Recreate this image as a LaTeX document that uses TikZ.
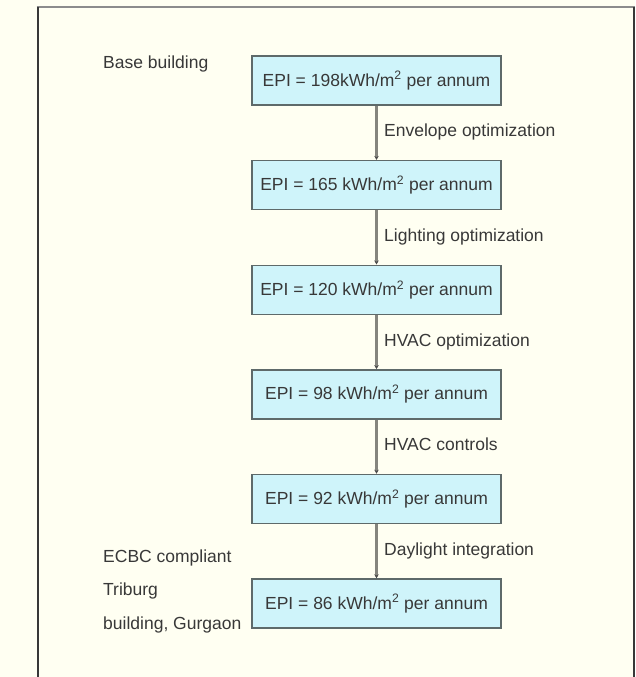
\documentclass[tikz,border=0pt]{standalone}
\usepackage{fontspec}
\setmainfont{Liberation Sans}
\usetikzlibrary{calc,arrows.meta}
\definecolor{bgcream}{HTML}{FFFFF2}
\definecolor{boxfill}{HTML}{CFF4FA}
\definecolor{boxline}{HTML}{5E6A6A}
\definecolor{txt}{HTML}{383838}
\definecolor{arrowc}{HTML}{85857E}
\begin{document}
\begin{tikzpicture}[x=1pt,y=-1pt,
  every node/.style={font=\fontsize{17.5}{21}\selectfont, text=txt, inner sep=0pt},
  epibox/.style={draw=boxline, line width=1.4pt, fill=boxfill, minimum width=249pt, minimum height=49pt},
  steplabel/.style={anchor=base west},
  sidelabel/.style={anchor=base west},
  flow/.style={draw=arrowc, line width=2.2pt, -{Stealth[length=4pt,width=4.5pt,color=black!70]}}]
\useasboundingbox[fill=bgcream] (0,0) rectangle (635,677);
% frame
\draw[line width=2pt, draw=black!45] (36.5,7.5) -- (634.5,7.5);
\draw[line width=2pt, draw=black!78] (37.5,7.5) -- (37.5,677);
\draw[line width=2pt, draw=black!78] (633.5,7.5) -- (633.5,677);
% boxes
\node[epibox] (b1) at (376.5,80.5)  {EPI = 198kWh/m\textsuperscript{2} per annum};
\node[epibox] (b2) at (376.5,185.1) {EPI = 165 kWh/m\textsuperscript{2} per annum};
\node[epibox] (b3) at (376.5,289.7) {EPI = 120 kWh/m\textsuperscript{2} per annum};
\node[epibox] (b4) at (376.5,394.3) {EPI = 98 kWh/m\textsuperscript{2} per annum};
\node[epibox] (b5) at (376.5,498.9) {EPI = 92 kWh/m\textsuperscript{2} per annum};
\node[epibox] (b6) at (376.5,603.5) {EPI = 86 kWh/m\textsuperscript{2} per annum};
% connectors
\draw[flow] (b1) -- (b2);
\draw[flow] (b2) -- (b3);
\draw[flow] (b3) -- (b4);
\draw[flow] (b4) -- (b5);
\draw[flow] (b5) -- (b6);
% step labels
\node[steplabel] (l1) at ($(b1.south)!0.5!(b2.north)+(7.5,4)$) {Envelope optimization};
\node[steplabel] (l2) at ($(b2.south)!0.5!(b3.north)+(7.5,4)$) {Lighting optimization};
\node[steplabel] (l3) at ($(b3.south)!0.5!(b4.north)+(7.5,4)$) {HVAC optimization};
\node[steplabel] (l4) at ($(b4.south)!0.5!(b5.north)+(7.5,4)$) {HVAC controls};
\node[steplabel] (l5) at ($(b5.south)!0.5!(b6.north)+(7.5,4)$) {Daylight integration};
% side labels
\node[sidelabel] (s0) at (103,68) {Base building};
\node[sidelabel] (s1) at (103,562) {ECBC compliant};
\node[sidelabel] (s2) at (103,595.5) {Triburg};
\node[sidelabel] (s3) at (103,629) {building, Gurgaon};
\end{tikzpicture}
\end{document}
